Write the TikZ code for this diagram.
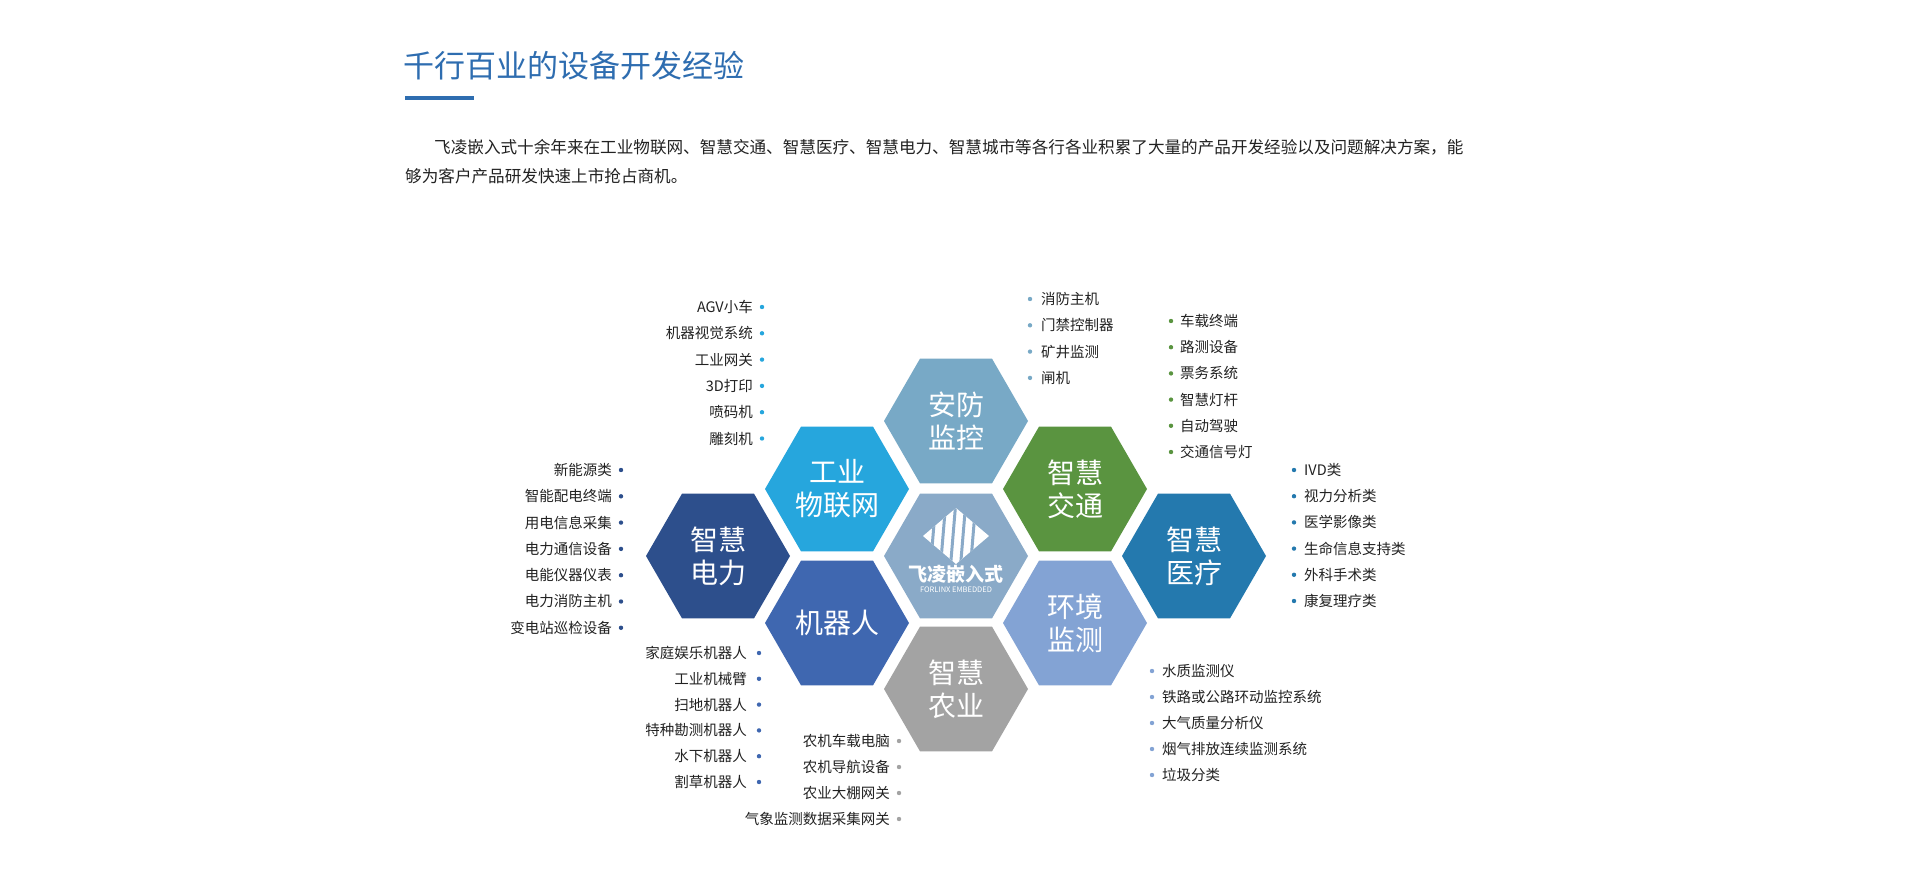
\documentclass[tikz,border=0pt]{standalone}
\usepackage{fontspec}
\setmainfont{Noto Sans CJK SC}
\usetikzlibrary{shapes.geometric}
\definecolor{cAF}{HTML}{78A9C6}
\definecolor{cGY}{HTML}{26A6DD}
\definecolor{cJT}{HTML}{5A9440}
\definecolor{cCT}{HTML}{8AAAC8}
\definecolor{cDL}{HTML}{2D4F8C}
\definecolor{cYL}{HTML}{2479AE}
\definecolor{cJQ}{HTML}{3F67B0}
\definecolor{cHJ}{HTML}{83A3D4}
\definecolor{cNY}{HTML}{A3A3A3}
\definecolor{titleblue}{HTML}{2E6DB0}
\definecolor{txt}{HTML}{222222}
\tikzset{
 hexa/.style={regular polygon,regular polygon sides=6,minimum size=144pt,inner sep=0pt,fill=#1,text=white,align=center,font=\fontsize{28}{33}\selectfont},
 li/.style={font=\fontsize{14.5}{16}\selectfont,text=txt,inner sep=0pt},
}
\begin{document}
\begin{tikzpicture}[x=1pt,y=-1pt]
\useasboundingbox (0,0) rectangle (1920,880);
\fill[white] (0,0) rectangle (1920,880);
% title
\node[anchor=west,inner sep=0pt,text=titleblue,font=\fontsize{31}{36}\selectfont] (title) at (403,66) {千行百业的设备开发经验};
\fill[titleblue] (405,96) rectangle (474,100);
\node[anchor=west,inner sep=0pt,font=\fontsize{16.6}{20}\selectfont,text=txt] (p1) at (434,147) {飞凌嵌入式十余年来在工业物联网、智慧交通、智慧医疗、智慧电力、智慧城市等各行各业积累了大量的产品开发经验以及问题解决方案，能};
\node[anchor=west,inner sep=0pt,font=\fontsize{16.6}{20}\selectfont,text=txt] (p2) at (405,176) {够为客户产品研发快速上市抢占商机。};
% hexagons
\def\cx{956}\def\cy{556}
\node[hexa=cCT] (ct) at (\cx,\cy) {};
\node[hexa=cAF] (af) at (\cx,\cy-135) {安防\\监控};
\node[hexa=cNY] (ny) at (\cx,\cy+133) {智慧\\农业};
\node[hexa=cGY] (gy) at (\cx-119,\cy-67) {工业\\物联网};
\node[hexa=cJT] (jt) at (\cx+119,\cy-67) {智慧\\交通};
\node[hexa=cJQ] (jq) at (\cx-119,\cy+67) {机器人};
\node[hexa=cHJ] (hj) at (\cx+119,\cy+67) {环境\\监测};
\node[hexa=cDL] (dl) at (\cx-238,\cy) {智慧\\电力};
\node[hexa=cYL] (yl) at (\cx+238,\cy) {智慧\\医疗};
% logo
\begin{scope}
\clip (\cx,\cy-48) -- (\cx+33,\cy-20) -- (\cx,\cy+8) -- (\cx-33,\cy-20) -- cycle;
\fill[white] (\cx-40,\cy-50) rectangle (\cx+40,\cy+10);
\foreach \d in {-22,-12,-2,8,18}{
 \fill[cCT] (\cx+\d,\cy-50) -- (\cx+\d+3,\cy-50) -- (\cx+\d-2,\cy+10) -- (\cx+\d-5,\cy+10) -- cycle;}
\end{scope}
\node[inner sep=0pt,text=white,font=\fontsize{19}{20}\selectfont\bfseries\itshape] (logo) at (\cx,\cy+18) {飞凌嵌入式};
\node[inner sep=0pt,text=white,font=\fontsize{7.5}{8}\selectfont\itshape] (logo2) at (\cx,\cy+34) {FORLINX EMBEDDED};
% lists (right-aligned, dot right)
\foreach \t [count=\i] in {AGV小车,机器视觉系统,工业网关,3D打印,喷码机,雕刻机}{
 \node[li,anchor=east] (a\i) at (753,307+\i*26.3-26.3) {\t};
 \fill[cGY] (762,307+\i*26.3-26.3) circle (2.2);}
\foreach \t [count=\i] in {新能源类,智能配电终端,用电信息采集,电力通信设备,电能仪器仪表,电力消防主机,变电站巡检设备}{
 \node[li,anchor=east] (b\i) at (612,470+\i*26.3-26.3) {\t};
 \fill[cDL] (621,470+\i*26.3-26.3) circle (2.2);}
\foreach \t [count=\i] in {家庭娱乐机器人,工业机械臂,扫地机器人,特种勘测机器人,水下机器人,割草机器人}{
 \node[li,anchor=east] (c\i) at (747,653+\i*25.8-25.8) {\t};
 \fill[cJQ] (759,653+\i*25.8-25.8) circle (2.2);}
\foreach \t [count=\i] in {农机车载电脑,农机导航设备,农业大棚网关,气象监测数据采集网关}{
 \node[li,anchor=east] (d\i) at (890,741+\i*26-26) {\t};
 \fill[cNY] (899,741+\i*26-26) circle (2.2);}
% lists (dot left)
\foreach \t [count=\i] in {消防主机,门禁控制器,矿井监测,闸机}{
 \node[li,anchor=west] (e\i) at (1041,299+\i*26.3-26.3) {\t};
 \fill[cAF] (1030,299+\i*26.3-26.3) circle (2.2);}
\foreach \t [count=\i] in {车载终端,路测设备,票务系统,智慧灯杆,自动驾驶,交通信号灯}{
 \node[li,anchor=west] (f\i) at (1180,321+\i*26.2-26.2) {\t};
 \fill[cJT] (1171,321+\i*26.2-26.2) circle (2.2);}
\foreach \t [count=\i] in {IVD类,视力分析类,医学影像类,生命信息支持类,外科手术类,康复理疗类}{
 \node[li,anchor=west] (g\i) at (1304,470+\i*26.2-26.2) {\t};
 \fill[cYL] (1294,470+\i*26.2-26.2) circle (2.2);}
\foreach \t [count=\i] in {水质监测仪,铁路或公路环动监控系统,大气质量分析仪,烟气排放连续监测系统,垃圾分类}{
 \node[li,anchor=west] (h\i) at (1162,671+\i*26-26) {\t};
 \fill[cHJ] (1152,671+\i*26-26) circle (2.2);}
\end{tikzpicture}
\end{document}
